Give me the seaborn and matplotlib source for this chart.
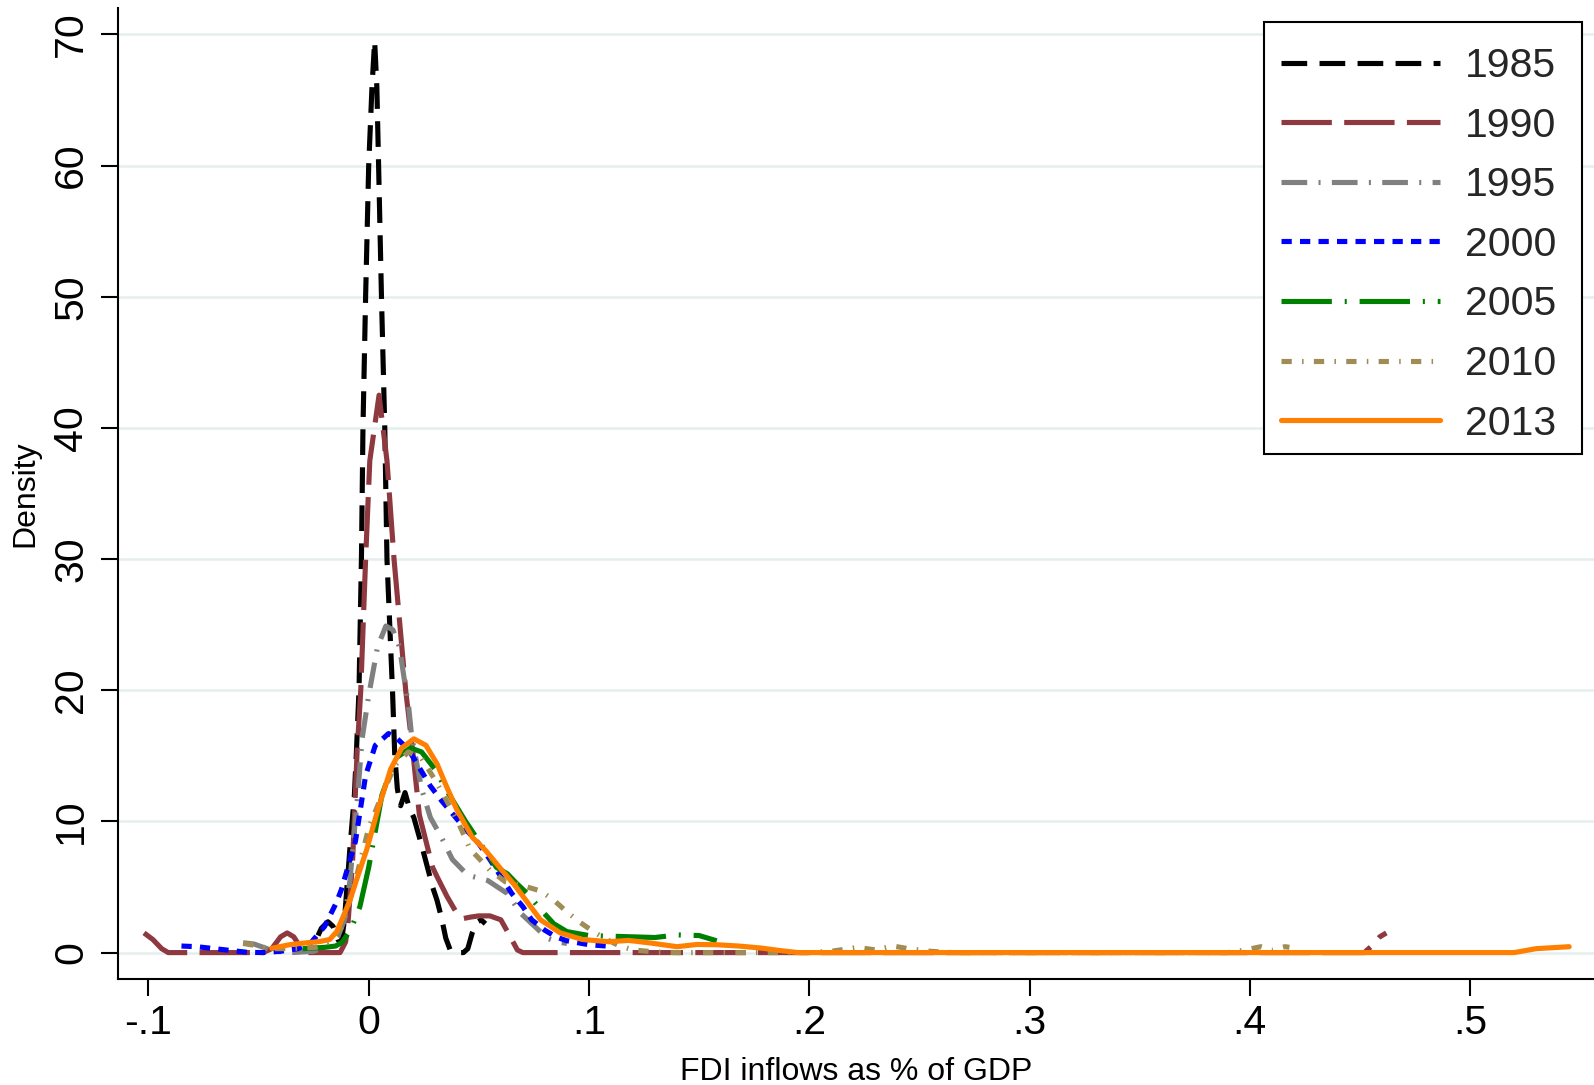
import matplotlib
matplotlib.use("Agg")
import matplotlib.pyplot as plt
import matplotlib.patches as mpatches
import seaborn as sns

# ---------------- data ----------------
years = ["1985", "1990", "1995", "2000", "2005", "2010", "2013"]

fdi_1985 = [-0.023, -0.0215, -0.0185, -0.0162, -0.014, -0.0125, -0.011, -0.0085, -0.0065,
            -0.0056, -0.0044, -0.0033, -0.0026, -0.0014, 0.0, 0.0015, 0.0027, 0.0037, 0.0045,
            0.0058, 0.0073, 0.0083, 0.0108, 0.0118, 0.013, 0.0145, 0.0165, 0.0185, 0.0205,
            0.024, 0.027, 0.029, 0.031, 0.033, 0.035, 0.037, 0.039, 0.043, 0.045, 0.047,
            0.049, 0.051, 0.053]
den_1985 = [1.3, 1.85, 2.35, 2.0, 1.0, 0.7, 2.5, 8.0, 12.0, 15.2, 20.0, 30.0, 40.0, 50.0,
            60.0, 66.0, 69.5, 66.0, 60.0, 50.0, 40.0, 30.0, 20.0, 15.2, 12.5, 11.2, 12.2, 11.0,
            10.3, 8.2, 6.3, 5.0, 4.0, 2.7, 1.1, 0.2, 0.0, 0.0, 0.3, 1.5, 2.3, 2.5, 2.2]

fdi_1990 = [-0.102, -0.098, -0.094, -0.091, -0.048, -0.044, -0.040, -0.037, -0.034, -0.031,
            -0.028, -0.013, -0.0105, -0.0095, -0.0073, -0.0053, -0.0036, -0.0014, 0.0005,
            0.0047, 0.0083, 0.0115, 0.0168, 0.0201, 0.023, 0.026, 0.029, 0.031, 0.0355,
            0.040, 0.043, 0.046, 0.050, 0.055, 0.060, 0.063, 0.0675, 0.070, 0.452, 0.456,
            0.459, 0.462]
den_1990 = [1.5, 1.0, 0.3, 0.0, 0.0, 0.3, 1.2, 1.5, 1.2, 0.4, 0.0, 0.0, 0.8, 2.0, 7.0, 15.2,
            20.0, 30.0, 37.5, 42.5, 37.5, 30.0, 20.0, 15.2, 10.5, 8.5, 6.5, 5.8, 4.3, 3.0, 2.6,
            2.7, 2.8, 2.8, 2.5, 1.6, 0.2, 0.0, 0.0, 0.6, 1.2, 1.5]

fdi_1995 = [-0.057, -0.052, -0.047, -0.042, -0.035, -0.025, -0.018, -0.014, -0.011, -0.0085,
            -0.0074, -0.005, -0.003, 0.0, 0.004, 0.0078, 0.011, 0.014, 0.016, 0.018, 0.0195,
            0.024, 0.028, 0.033, 0.038, 0.045, 0.054, 0.063, 0.069, 0.076, 0.081, 0.086, 0.09]
den_1995 = [0.75, 0.65, 0.35, 0.1, 0.0, 0.1, 0.5, 1.2, 2.5, 5.5, 7.6, 12.0, 16.3, 19.6, 23.3,
            24.9, 24.6, 23.3, 21.0, 19.0, 16.5, 12.5, 10.3, 8.8, 7.1, 5.9, 5.5, 4.5, 3.0, 1.9,
            1.1, 0.8, 0.7]

fdi_2000 = [-0.085, -0.078, -0.07, -0.062, -0.055, -0.048, -0.04, -0.032, -0.026, -0.02,
            -0.0147, -0.0124, -0.0086, -0.006, -0.0014, 0.003, 0.009, 0.013, 0.018, 0.023,
            0.028, 0.033, 0.038, 0.043, 0.05, 0.055, 0.06, 0.065, 0.07, 0.074, 0.08, 0.085,
            0.09, 0.1, 0.108]
den_2000 = [0.5, 0.45, 0.3, 0.15, 0.02, 0.0, 0.1, 0.3, 0.8, 2.0, 3.8, 4.8, 7.0, 8.5, 13.5,
            15.8, 16.7, 16.3, 15.5, 14.1, 12.7, 11.6, 10.6, 9.6, 8.3, 7.1, 5.8, 4.5, 3.5, 2.5,
            1.7, 1.2, 0.9, 0.6, 0.5]

fdi_2005 = [-0.03, -0.02, -0.015, -0.012, -0.008, -0.004, 0.0, 0.006, 0.012, 0.019, 0.024,
            0.03, 0.036, 0.044, 0.052, 0.058, 0.063, 0.067, 0.072, 0.078, 0.084, 0.09, 0.1,
            0.11, 0.12, 0.13, 0.14, 0.15, 0.158]
den_2005 = [0.3, 0.4, 0.5, 0.8, 1.8, 3.5, 6.5, 12.0, 14.8, 15.6, 15.3, 14.0, 12.2, 10.0, 8.0,
            6.5, 6.0, 5.3, 4.5, 3.3, 2.2, 1.6, 1.3, 1.25, 1.2, 1.15, 1.35, 1.3, 0.9]

fdi_2010 = [-0.057, -0.05, -0.045, -0.038, -0.03, -0.024, -0.018, -0.012, -0.006, 0.0, 0.006,
            0.012, 0.018, 0.024, 0.03, 0.036, 0.041, 0.046, 0.055, 0.062, 0.07, 0.078, 0.084,
            0.09, 0.096, 0.102, 0.108, 0.114, 0.12, 0.13, 0.14, 0.2, 0.21, 0.222, 0.23, 0.238,
            0.245, 0.255, 0.265, 0.39, 0.398, 0.405, 0.41, 0.416, 0.418]
den_2010 = [0.7, 0.5, 0.3, 0.3, 0.35, 0.4, 0.8, 2.0, 5.5, 9.5, 12.0, 14.3, 15.3, 14.8, 13.2,
            11.4, 9.8, 7.9, 6.3, 5.4, 5.1, 4.7, 4.0, 3.1, 2.3, 1.6, 1.0, 0.5, 0.2, 0.05, 0.0,
            0.0, 0.1, 0.4, 0.2, 0.5, 0.3, 0.1, 0.0, 0.0, 0.2, 0.45, 0.2, 0.45, 0.4]

fdi_2013 = [-0.044, -0.036, -0.028, -0.022, -0.0177, -0.0145, -0.0117, -0.0085, -0.0056,
            -0.001, 0.004, 0.010, 0.015, 0.0205, 0.026, 0.031, 0.035, 0.040, 0.047, 0.053,
            0.0604, 0.066, 0.070, 0.078, 0.087, 0.097, 0.109, 0.118, 0.128, 0.14, 0.149,
            0.158, 0.168, 0.178, 0.187, 0.195, 0.52, 0.53, 0.545]
den_2013 = [0.33, 0.6, 0.75, 0.85, 1.0, 1.6, 2.7, 4.0, 5.5, 7.8, 10.8, 14.0, 15.6, 16.3, 15.8,
            14.4, 12.8, 10.9, 8.8, 7.8, 6.3, 5.2, 4.3, 2.5, 1.5, 1.0, 0.83, 0.93, 0.73, 0.45,
            0.62, 0.6, 0.5, 0.35, 0.15, 0.0, 0.0, 0.3, 0.45]

x_ticks = [-0.1, 0.0, 0.1, 0.2, 0.3, 0.4, 0.5]
x_tick_labels = ["-.1", "0", ".1", ".2", ".3", ".4", ".5"]
y_ticks = [0, 10, 20, 30, 40, 50, 60, 70]
y_tick_labels = ["0", "10", "20", "30", "40", "50", "60", "70"]

series = {
    "1985": (fdi_1985, den_1985),
    "1990": (fdi_1990, den_1990),
    "1995": (fdi_1995, den_1995),
    "2000": (fdi_2000, den_2000),
    "2005": (fdi_2005, den_2005),
    "2010": (fdi_2010, den_2010),
    "2013": (fdi_2013, den_2013),
}

# ---------------- styles ----------------
colors = {
    "1985": "#000000",
    "1990": "#8E3840",
    "1995": "#808080",
    "2000": "#0000FF",
    "2005": "#008000",
    "2010": "#A08D55",
    "2013": "#FF7F00",
}
line_styles = {
    "1985": (0, (5.0, 2.4)),
    "1990": (0, (9.8, 2.4)),
    "1995": (0, (5.0, 2.2, 0.4, 2.2)),
    "2000": (0, (2.0, 1.6)),
    "2005": (0, (9.8, 2.5, 0.4, 2.5)),
    "2010": (0, (2.0, 2.0, 0.3, 2.0)),
    "2013": "-",
}
LW = 3.7
TICK_FS = 29.5
LABEL_FS = 23

sns.set_style("ticks")
plt.rcParams["font.family"] = ["Liberation Sans", "DejaVu Sans"]

W, H = 1594, 1085
fig = plt.figure(figsize=(W / 100, H / 100), dpi=100)
fig.patch.set_facecolor("white")
ax_left, ax_right, ax_top, ax_bottom = 118, 1594, 8, 979
ax = fig.add_axes([ax_left / W, 1 - ax_bottom / H, (ax_right - ax_left) / W,
                   (ax_bottom - ax_top) / H])
ax.set_facecolor("white")

for yr in years:
    xs, ys = series[yr]
    sns.lineplot(x=xs, y=ys, ax=ax, color=colors[yr], linewidth=LW, label=yr,
                 sort=False, estimator=None, legend=False)
    ln = ax.lines[-1]
    ln.set_linestyle(line_styles[yr])
    ln.set_label(yr)

ax.set_xlim(-0.11381, 0.55627)
ax.set_ylim(-2.013, 72.02)

ax.set_xticks(x_ticks)
ax.set_xticklabels(x_tick_labels, fontsize=TICK_FS)
ax.set_yticks(y_ticks)
ax.set_yticklabels(y_tick_labels, fontsize=TICK_FS, rotation=90, va="center")

ax.tick_params(axis="both", direction="out", length=12, width=1.5, color="black",
               labelcolor="black")
ax.tick_params(axis="x", pad=6)
ax.tick_params(axis="y", pad=8)

for s in ["top", "right"]:
    ax.spines[s].set_visible(False)
for s in ["left", "bottom"]:
    ax.spines[s].set_linewidth(1.5)
    ax.spines[s].set_color("black")

ax.grid(False)
ax.yaxis.grid(True, color="#e4eeef", linewidth=1.8)
ax.set_axisbelow(True)

ax.set_xlabel("FDI inflows as % of GDP", fontsize=LABEL_FS, color="black")
ax.set_ylabel("Density", fontsize=LABEL_FS, color="black")
ax.xaxis.set_label_coords(0.5, (ax_bottom - 1057) / (ax_bottom - ax_top))
ax.yaxis.set_label_coords((40 - ax_left) / (ax_right - ax_left), 0.5)

# legend frame (drawn as a plain box, like the reference)
box_l, box_t, box_r, box_b = 1263.7, 22.4, 1581.7, 454.4
frame = mpatches.Rectangle((box_l / W, 1 - box_b / H), (box_r - box_l) / W,
                           (box_b - box_t) / H, transform=fig.transFigure,
                           facecolor="white", edgecolor="black", linewidth=1.5,
                           clip_on=False, zorder=4)
ax.add_patch(frame)

handles = ax.lines[:len(years)]
leg = ax.legend(handles, years, loc="upper left",
                bbox_to_anchor=(1281 / W, 1 - 47.0 / H), bbox_transform=fig.transFigure,
                borderaxespad=0, borderpad=0, fontsize=TICK_FS, handlelength=3.87,
                handletextpad=0.62, labelspacing=0.527, frameon=False)
leg.set_zorder(5)

fig.savefig("out.png", dpi=100, facecolor="white")
